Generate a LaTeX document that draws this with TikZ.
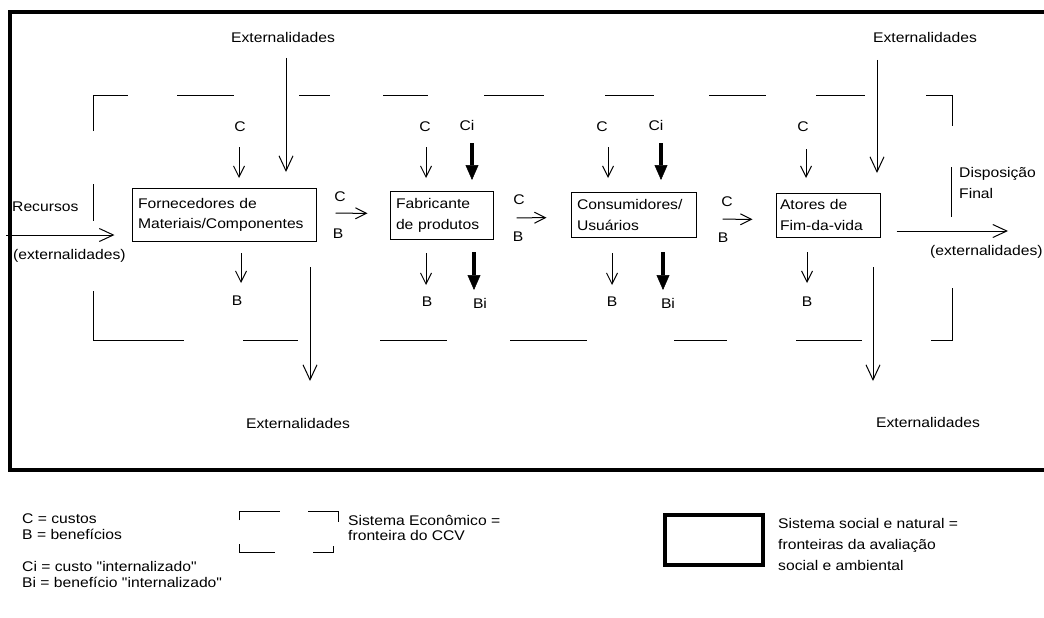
\documentclass[tikz,border=0pt]{standalone}
\usepackage{fontspec}
\setmainfont{Liberation Sans}[FakeStretch=1.12,Ligatures=TeXOff]
\usetikzlibrary{arrows.meta}
\begin{document}
\begin{tikzpicture}[x=1pt,y=-1pt,
  font=\fontsize{14}{20}\selectfont,
  frame/.style={line width=4.5pt},
  bound/.style={line width=1pt},
  box/.style={draw,line width=1pt,rectangle,align=left,inner ysep=0pt},
  lbl/.style={inner sep=0pt},
  bigarr/.style={line width=1pt,-{Straight Barb[length=15pt,width=14pt]}},
  medarr/.style={line width=1pt,-{Straight Barb[length=14pt,width=13pt]}},
  smallarr/.style={line width=1pt,-{Straight Barb[length=11pt,width=11pt]}},
  fatarr/.style={line width=4pt,-{Triangle[length=15pt,width=13pt,line width=0.5pt]}}]
\useasboundingbox (0,0) rectangle (1044,618);

% social and natural system (outer frame)
\draw[frame] (10,12) rectangle (1070,470);

% economic system boundary (broken lines)
\draw[bound] (93,131) -- (93,95) -- (128,95);
\draw[bound] (177,95) -- (234,95);
\draw[bound] (299,95) -- (330,95);
\draw[bound] (383,95) -- (428,95);
\draw[bound] (484,95) -- (544,95);
\draw[bound] (605,95) -- (654,95);
\draw[bound] (709,95) -- (766,95);
\draw[bound] (816,95) -- (865,95);
\draw[bound] (926,95) -- (952,95) -- (952,126);
\draw[bound] (93,184) -- (93,221);
\draw[bound] (951,167) -- (951,217);
\draw[bound] (93,291) -- (93,340) -- (184,340);
\draw[bound] (243,340) -- (298,340);
\draw[bound] (380,340) -- (447,340);
\draw[bound] (510,340) -- (587,340);
\draw[bound] (674,340) -- (727,340);
\draw[bound] (796,340) -- (862,340);
\draw[bound] (931,340) -- (952,340) -- (952,288);

% life-cycle actors
\node[box,minimum width=184pt,minimum height=53pt,text width=172pt,inner xsep=6pt] (F) at (224,214.5)
  {Fornecedores de\\Materiais/Componentes};
\node[box,minimum width=103pt,minimum height=48pt,text width=91pt,inner xsep=6pt,
  font=\fontsize{14}{21}\selectfont] (P) at (441.5,215)
  {Fabricante\\de produtos};
\node[box,minimum width=125pt,minimum height=45pt,text width=113pt,inner xsep=6pt,
  font=\fontsize{14}{21}\selectfont] (U) at (633.5,214.5)
  {Consumidores/\\Usuários};
\node[box,minimum width=104pt,minimum height=44pt,text width=96pt,inner xsep=4pt,
  font=\fontsize{14}{21}\selectfont] (A) at (828,215)
  {Atores de\\Fim-da-vida};

% externalities
\node[lbl] (eTL) at (283,37) {Externalidades};
\node[lbl] (eTR) at (925,37) {Externalidades};
\node[lbl] (eBL) at (298,423) {Externalidades};
\node[lbl] (eBR) at (928,422) {Externalidades};
\draw[bigarr] (eTL.center) ++(3,21) -- ++(0,114);
\draw[bigarr] (eTR.center) ++(-48,23) -- ++(0,113);
\draw[bigarr] (eBL.center) ++(12,-156) -- ++(0,114);
\draw[bigarr] (eBR.center) ++(-55,-155) -- ++(0,114);

% resources in, final disposal out
\node[lbl,anchor=west] (rec) at (12,207) {Recursos};
\node[lbl,anchor=west] (recx) at (13,256) {(externalidades)};
\coordinate (inL) at (6,235);
\draw[medarr,shorten >=17pt] (inL) -- ([yshift=-20.5pt]F.west);
\node[lbl,anchor=base west,align=left,font=\fontsize{14}{21}\selectfont] (disp) at (959,198)
  {Disposição\\Final};
\node[lbl,anchor=west] (outx) at (930,252) {(externalidades)};
\coordinate (outR) at (1008,231);
\draw[medarr,shorten <=16pt] ([yshift=-16pt]A.east) -- (outR);

% flows between actors
\draw[smallarr,shorten <=19pt,shorten >=22pt] ([yshift=1.5pt]F.east) -- ([yshift=1.5pt]P.west);
\draw[smallarr,shorten <=23pt,shorten >=24pt] ([yshift=-3pt]P.east) -- ([yshift=-3pt]U.west);
\draw[smallarr,shorten <=26pt,shorten >=23pt] ([yshift=-4.5pt]U.east) -- ([yshift=-4.5pt]A.west);
\node[lbl] (cFP) at (340,197) {C};
\node[lbl] (bFP) at (338,234) {B};
\node[lbl] (cPU) at (519,200) {C};
\node[lbl] (bPU) at (518,237) {B};
\node[lbl] (cUA) at (727,202) {C};
\node[lbl] (bUA) at (723,238) {B};

% costs in, benefits out
\node[lbl] (cF) at (240,127) {C};
\node[lbl] (bF) at (237,301) {B};
\draw[smallarr] (cF.center) ++(-1,20) -- ++(0,31);
\draw[smallarr] (bF.center) ++(4,-48) -- ++(0,30);

\node[lbl] (cP) at (425,127) {C};
\node[lbl] (ciP) at (467,125) {Ci};
\node[lbl] (bP) at (427,302) {B};
\node[lbl] (biP) at (480,303) {Bi};
\draw[smallarr] (cP.center) ++(1,20) -- ++(0,31);
\draw[fatarr] (ciP.center) ++(5,18) -- ++(0,37);
\draw[smallarr] (bP.center) ++(-1,-49) -- ++(0,32);
\draw[fatarr] (biP.center) ++(-6,-51) -- ++(0,38);

\node[lbl] (cU) at (602,127) {C};
\node[lbl] (ciU) at (656,125) {Ci};
\node[lbl] (bU) at (612,302) {B};
\node[lbl] (biU) at (668,303) {Bi};
\draw[smallarr] (cU.center) ++(6,20) -- ++(0,31);
\draw[fatarr] (ciU.center) ++(5,18) -- ++(0,37);
\draw[smallarr] (bU.center) ++(0,-49) -- ++(0,32);
\draw[fatarr] (biU.center) ++(-5,-51) -- ++(0,38);

\node[lbl] (cA) at (803,127) {C};
\node[lbl] (bA) at (807,302) {B};
\draw[smallarr] (cA.center) ++(3,22) -- ++(0,29);
\draw[smallarr] (bA.center) ++(0,-50) -- ++(0,31);

% legend
\node[lbl,anchor=base west,align=left,font=\fontsize{14}{16}\selectfont] (legCB) at (22,539)
  {C = custos\\B = benefícios};
\node[lbl,anchor=base west,align=left,font=\fontsize{14}{16}\selectfont] (legCiBi) at (22,587)
  {Ci = custo "internalizado"\\Bi = benefício "internalizado"};
\draw[bound] (239,520) -- (239,511) -- (280,511);
\draw[bound] (308,511) -- (338,511) -- (338,522);
\draw[bound] (239,544) -- (239,552) -- (275,552);
\draw[bound] (313,552) -- (333,552) -- (333,546);
\node[lbl,anchor=base west,align=left,font=\fontsize{14}{15}\selectfont] (legEco) at (348,540)
  {Sistema Econômico =\\fronteira do CCV};
\draw[frame] (665,515) rectangle (763,565);
\node[lbl,anchor=base west,align=left,font=\fontsize{14}{21}\selectfont] (legSoc) at (778,570)
  {Sistema social e natural =\\fronteiras da avaliação\\social e ambiental};
\end{tikzpicture}
\end{document}
